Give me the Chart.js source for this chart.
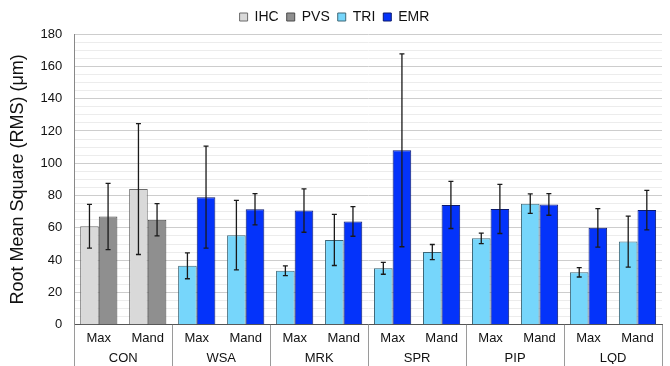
<!DOCTYPE html>
<html>
<head>
<meta charset="utf-8">
<script src="https://cdn.jsdelivr.net/npm/chart.js@4"></script>
<style>
  html, body { margin: 0; padding: 0; background: #fff; }
  #wrap { width: 670px; height: 366px; }
</style>
</head>
<body>
<div id="wrap"><canvas id="rmsChart"></canvas></div>
<script>
// Data
const jaws = ["Max", "Mand", "Max", "Mand", "Max", "Mand", "Max", "Mand", "Max", "Mand", "Max", "Mand"];
const groups = ["CON", "WSA", "MRK", "SPR", "PIP", "LQD"];

const ihc = [61, 84, null, null, null, null, null, null, null, null, null, null];
const ihcErr = [13.5, 40.5, null, null, null, null, null, null, null, null, null, null];
const pvs = [67, 65, null, null, null, null, null, null, null, null, null, null];
const pvsErr = [20.5, 10, null, null, null, null, null, null, null, null, null, null];
const tri = [null, null, 36.5, 55.5, 33.5, 52.5, 35, 45, 53.5, 75, 32.5, 51.5];
const triErr = [null, null, 8, 21.5, 3, 15.8, 3.7, 4.7, 3.2, 6, 2.9, 15.8];
const emr = [null, null, 79, 71.5, 70.7, 64, 108, 74.2, 71.7, 74.5, 60, 71];
const emrErr = [null, null, 31.6, 9.7, 13.4, 9.2, 59.7, 14.6, 15.2, 6.7, 11.9, 12.2];

const FONT = "'Liberation Sans', Arial, Helvetica, sans-serif";

// error bars drawn on top of the bars
const errorBars = {
    id: 'errorBars',
    afterDatasetsDraw(chart) {
        const ctx = chart.ctx;
        const y = chart.scales.y;
        chart.data.datasets.forEach((ds, di) => {
            const meta = chart.getDatasetMeta(di);
            meta.data.forEach((bar, i) => {
                const v = ds.data[i], e = ds.errors[i];
                if (v == null || e == null) return;
                const t = y.getPixelForValue(v + e);
                const b = y.getPixelForValue(v - e);
                ctx.save();
                ctx.strokeStyle = '#1a1a1a';
                ctx.lineWidth = 1.3;
                ctx.beginPath();
                ctx.moveTo(bar.x, t); ctx.lineTo(bar.x, b);
                ctx.moveTo(bar.x - 2.5, t); ctx.lineTo(bar.x + 2.5, t);
                ctx.moveTo(bar.x - 2.5, b); ctx.lineTo(bar.x + 2.5, b);
                ctx.stroke();
                ctx.restore();
            });
        });
    }
};

// vertical separators between groups under the axis
const groupLines = {
    id: 'groupLines',
    afterDraw(chart) {
        const ctx = chart.ctx;
        const x = chart.scales.x;
        const area = chart.chartArea;
        const w = x.getPixelForValue(1) - x.getPixelForValue(0);
        ctx.save();
        ctx.strokeStyle = '#9a9a9a';
        ctx.lineWidth = 1;
        for (let g = 0; g <= groups.length; g++) {
            const px = Math.round(x.getPixelForValue(g * 2) - w / 2) + 0.5;
            ctx.beginPath();
            ctx.moveTo(px, area.bottom);
            ctx.lineTo(px, chart.height);
            ctx.stroke();
        }
        ctx.restore();
    }
};

const ctx = document.getElementById('rmsChart').getContext('2d');
new Chart(ctx, {
    type: 'bar',
    data: {
        labels: jaws,
        datasets: [
            { label: 'IHC', data: ihc, errors: ihcErr, backgroundColor: '#d9d9d9', borderColor: '#6a6a6a' },
            { label: 'PVS', data: pvs, errors: pvsErr, backgroundColor: '#8f8f8f', borderColor: '#4a4a4a' },
            { label: 'TRI', data: tri, errors: triErr, backgroundColor: '#76d6fb', borderColor: '#3f6878' },
            { label: 'EMR', data: emr, errors: emrErr, backgroundColor: '#0433fa', borderColor: '#0c1a6e' }
        ]
    },
    options: {
        responsive: true,
        maintainAspectRatio: false,
        animation: false,
        layout: { padding: { left: 7, right: 8, top: 2, bottom: 2 } },
        datasets: {
            bar: {
                skipNull: true,
                borderWidth: 1,
                categoryPercentage: 0.76,
                barPercentage: 1.0
            }
        },
        plugins: {
            legend: {
                position: 'top',
                labels: {
                    boxWidth: 8,
                    boxHeight: 8,
                    padding: 8,
                    color: '#111',
                    font: { family: FONT, size: 14 }
                }
            },
            tooltip: { enabled: false }
        },
        scales: {
            x: {
                grid: { display: false, drawTicks: false },
                border: { color: '#555' },
                ticks: { color: '#111', font: { family: FONT, size: 13 }, padding: 6 }
            },
            x2: {
                type: 'category',
                position: 'bottom',
                labels: groups,
                grid: { display: false, drawTicks: false },
                border: { display: false },
                ticks: { color: '#111', font: { family: FONT, size: 13 }, padding: -2 }
            },
            y: {
                min: 0,
                max: 180,
                border: { color: '#888' },
                grid: {
                    color: c => (c.tick && c.tick.value % 20 === 0) ? '#cdcdcd' : '#ececec',
                    lineWidth: 1,
                    drawTicks: false
                },
                ticks: {
                    stepSize: 5,
                    maxTicksLimit: 100,
                    autoSkip: false,
                    padding: 12,
                    color: '#111',
                    font: { family: FONT, size: 13 },
                    callback: v => (v % 20 === 0 ? v : '')
                },
                title: {
                    display: true,
                    text: 'Root Mean Square (RMS) (\u03BCm)',
                    color: '#111',
                    font: { family: FONT, size: 18 },
                    padding: { top: 0, bottom: 0 }
                }
            }
        }
    },
    plugins: [errorBars, groupLines]
});
</script>
</body>
</html>
